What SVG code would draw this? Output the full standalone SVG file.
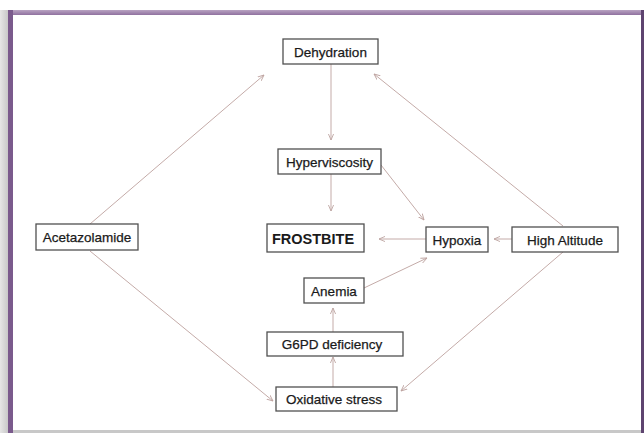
<svg xmlns="http://www.w3.org/2000/svg" width="644" height="433" viewBox="0 0 644 433">
<defs>
<linearGradient id="shadowL" x1="0" y1="0" x2="1" y2="0">
<stop offset="0" stop-color="#e6e6e6"/>
<stop offset="1" stop-color="#c4c4c4"/>
</linearGradient>
<linearGradient id="topB" x1="0" y1="0" x2="0" y2="1">
<stop offset="0" stop-color="#b9a3c2"/>
<stop offset="1" stop-color="#8f719f"/>
</linearGradient>
<marker id="ah" viewBox="0 0 8 8" refX="7" refY="4" markerWidth="7" markerHeight="7" markerUnits="userSpaceOnUse" orient="auto">
<path d="M0,1 L7,4 L0,7" fill="none" stroke="#bda3a0" stroke-width="1"/>
</marker>
<style>
.box{fill:#ffffff;stroke:#505050;stroke-width:1.3}
.t{font-family:"Liberation Sans",Arial,sans-serif;font-size:13.5px;fill:#1a1a1a;stroke:#1a1a1a;stroke-width:0.25;text-anchor:middle}
.b{font-weight:bold;font-size:14.5px;stroke-width:0}
.c{stroke:#c4aba8;stroke-width:1;fill:none;marker-end:url(#ah)}
</style>
</defs>
<rect x="0" y="0" width="644" height="433" fill="#ffffff"/>
<rect x="0" y="10" width="9" height="423" fill="url(#shadowL)"/>
<rect x="8" y="10" width="636" height="5" fill="url(#topB)"/>
<rect x="8" y="10" width="5" height="423" fill="#7a5a8c"/>
<rect x="641" y="10" width="3" height="423" fill="#5e4470"/>
<rect x="13" y="430" width="628" height="3" fill="#c8c8c8"/>

<g id="connectors">
<line class="c" x1="331" y1="64" x2="331" y2="140"/>
<line class="c" x1="331" y1="174" x2="331" y2="211"/>
<line class="c" x1="381" y1="165" x2="424" y2="220"/>
<line class="c" x1="426" y1="239" x2="379" y2="239"/>
<line class="c" x1="512" y1="239" x2="494" y2="239"/>
<line class="c" x1="364" y1="288" x2="427" y2="258"/>
<line class="c" x1="333" y1="332" x2="333" y2="308"/>
<line class="c" x1="333" y1="387" x2="333" y2="357"/>
<line class="c" x1="90" y1="224" x2="264" y2="75"/>
<line class="c" x1="563" y1="226" x2="374" y2="74"/>
<line class="c" x1="90" y1="251" x2="273" y2="401"/>
<line class="c" x1="563" y1="252" x2="401" y2="391"/>
</g>

<g id="dehydration"><rect class="box" x="283" y="39" width="95" height="25"/><text class="t" x="330.5" y="56.5">Dehydration</text></g>
<g id="hyperviscosity"><rect class="box" x="278" y="149" width="103" height="25"/><text class="t" x="329.5" y="166.5">Hyperviscosity</text></g>
<g id="acetazolamide"><rect class="box" x="36" y="224" width="102" height="26"/><text class="t" x="87" y="242">Acetazolamide</text></g>
<g id="frostbite"><rect class="box" x="267" y="224" width="97" height="28"/><text class="t b" x="313" y="243.5">FROSTBITE</text></g>
<g id="hypoxia"><rect class="box" x="426" y="227" width="62" height="25"/><text class="t" x="457" y="244.5">Hypoxia</text></g>
<g id="highaltitude"><rect class="box" x="512" y="227" width="106" height="25"/><text class="t" x="565" y="244.5">High Altitude</text></g>
<g id="anemia"><rect class="box" x="304" y="278" width="60" height="25"/><text class="t" x="334" y="295.5">Anemia</text></g>
<g id="g6pd"><rect class="box" x="267" y="332" width="136" height="24"/><text class="t" x="332" y="349">G6PD deficiency</text></g>
<g id="oxidative"><rect class="box" x="276" y="387" width="121" height="24"/><text class="t" x="334" y="404">Oxidative stress</text></g>
</svg>
